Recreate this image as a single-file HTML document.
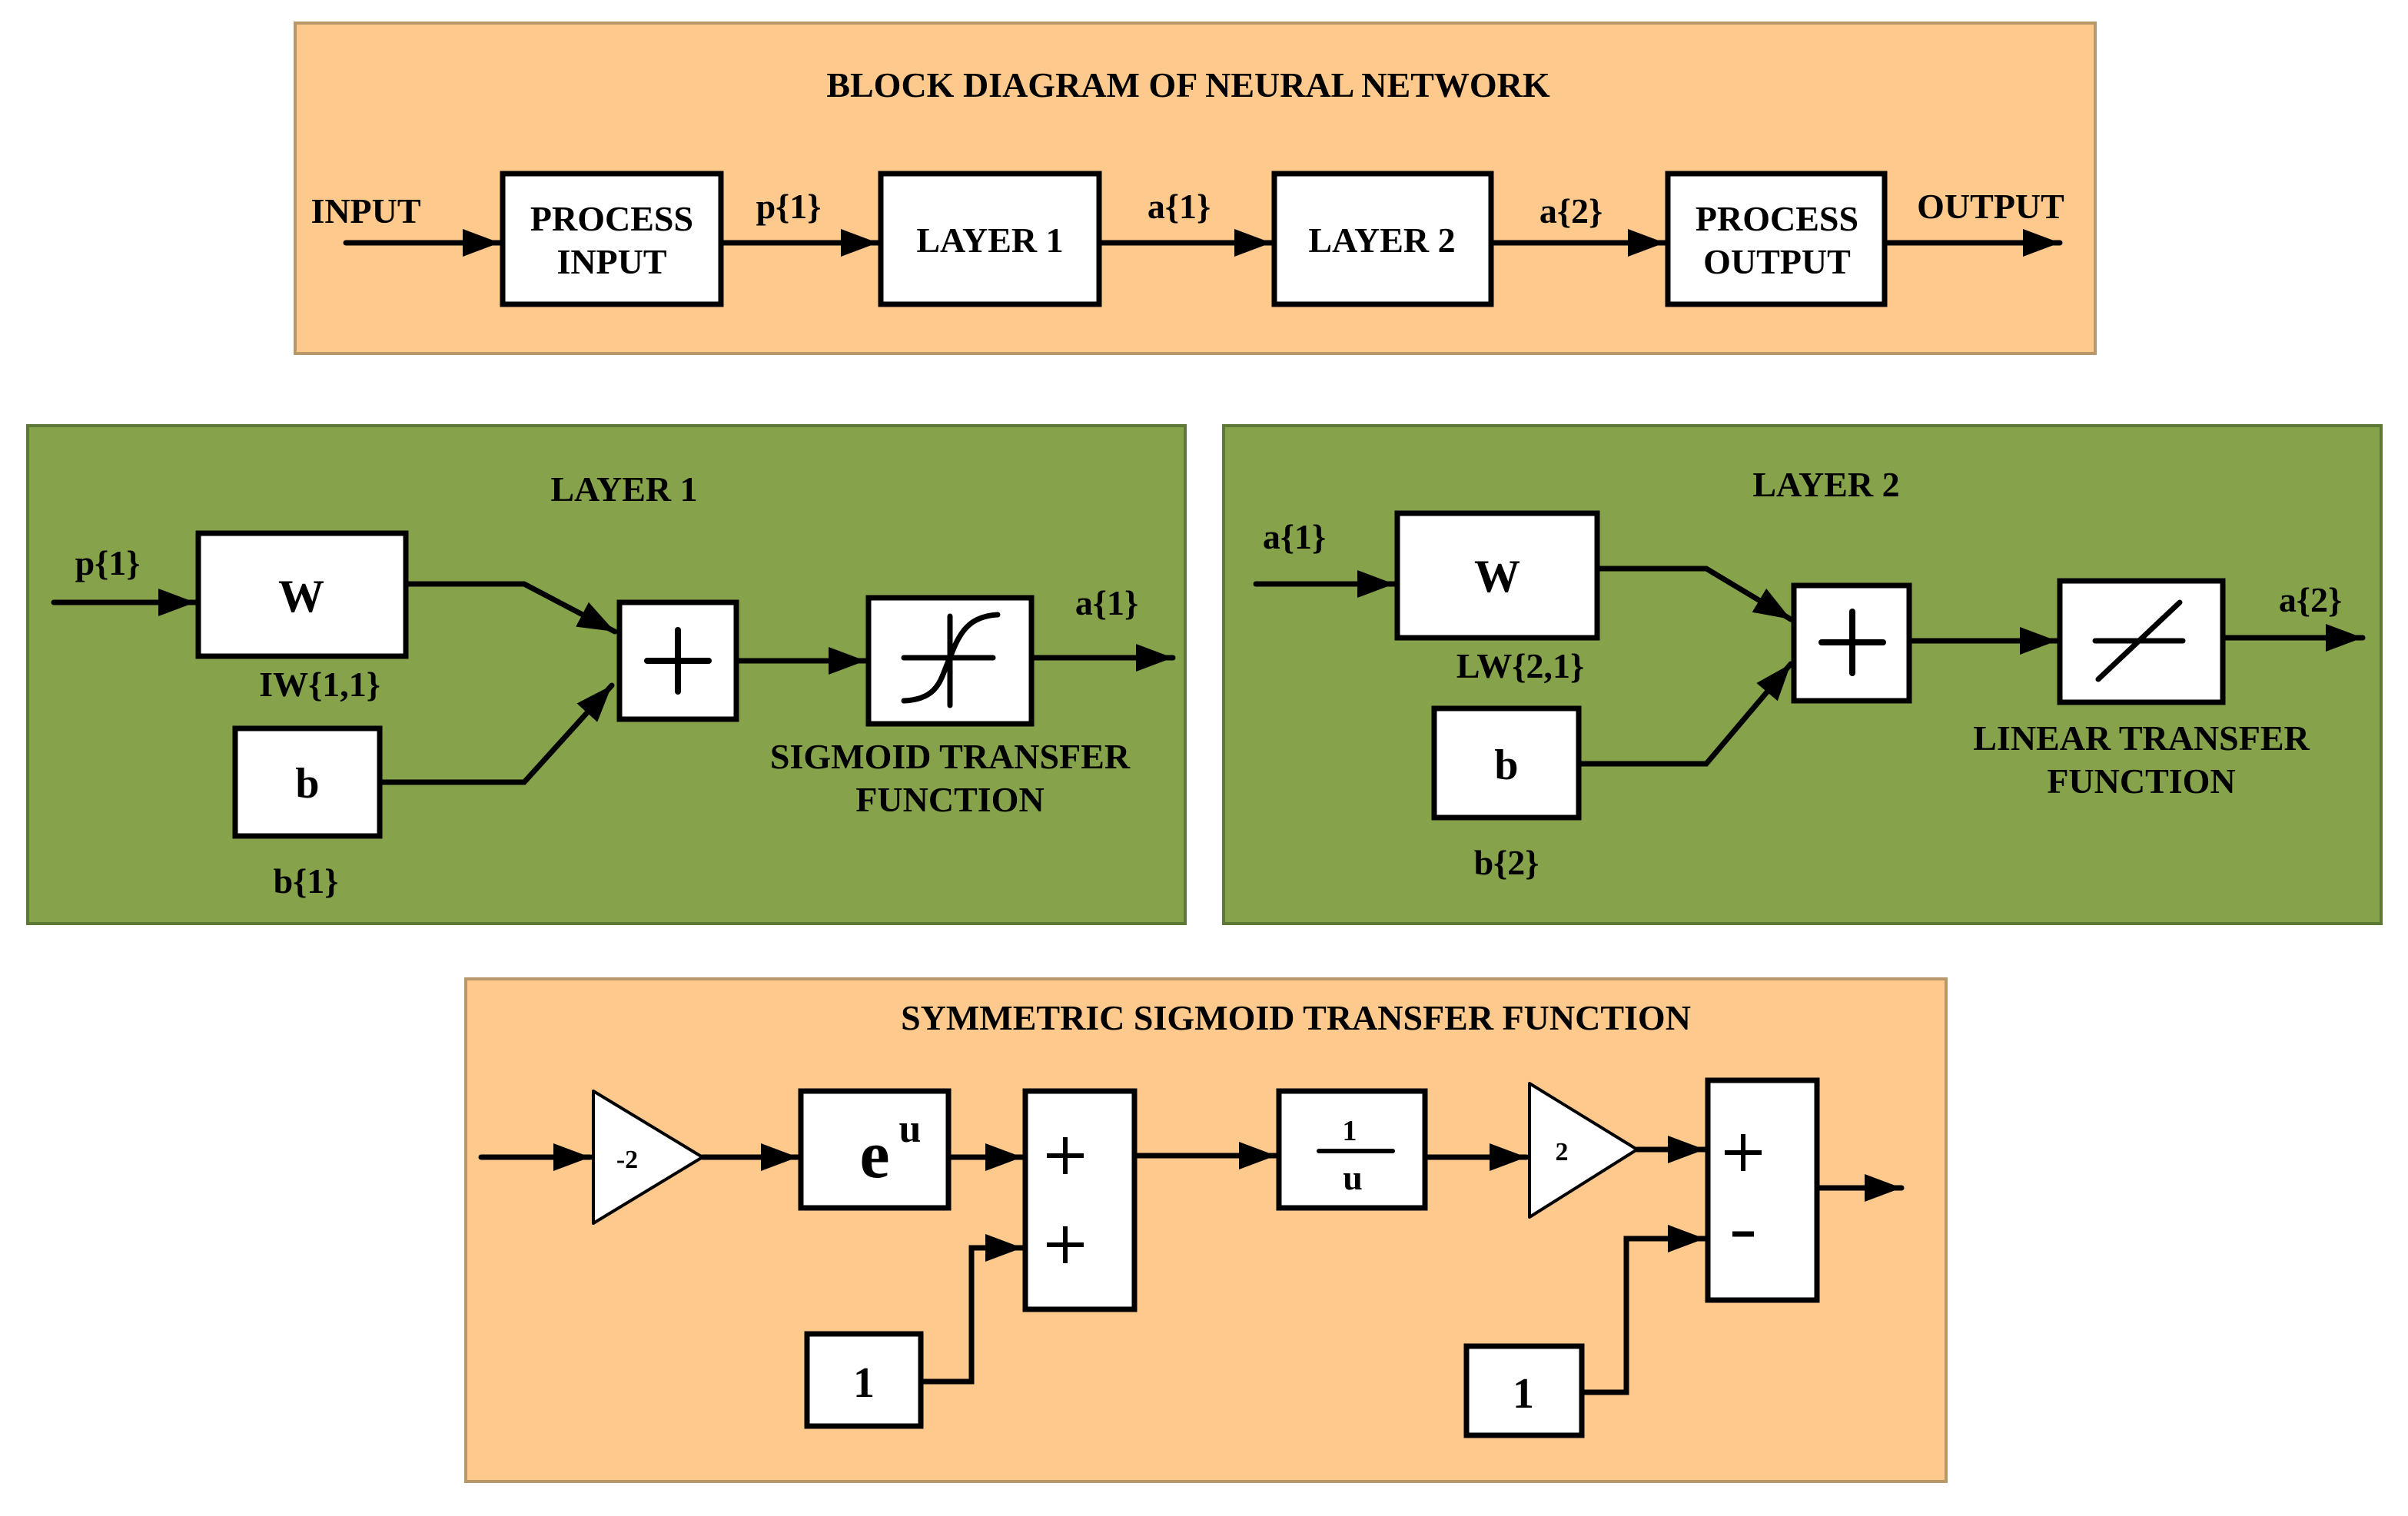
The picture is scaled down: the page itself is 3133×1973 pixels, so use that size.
<!DOCTYPE html>
<html><head><meta charset="utf-8"><style>html,body{margin:0;padding:0;background:#fff}svg{display:block}</style></head>
<body>
<svg width="3133" height="1973" viewBox="0 0 1566.5 986.5" xmlns="http://www.w3.org/2000/svg" font-family="'Liberation Serif', serif" font-weight="bold">
<defs>
<marker id="a" viewBox="0 0 10 10" refX="10" refY="5" markerWidth="24" markerHeight="18" markerUnits="userSpaceOnUse" orient="auto" preserveAspectRatio="none"><path d="M0,0 L10,5 L0,10 Z"/></marker>
</defs>
<g stroke="#000" stroke-width="3.5" fill="none" stroke-linecap="round">
<rect x="192" y="15" width="1171" height="215" fill="#fdc98d" stroke="#b89868" stroke-width="2"/>
<rect x="18" y="277" width="753" height="324" fill="#86a34c" stroke="#5e7835" stroke-width="2"/>
<rect x="796" y="277" width="753" height="324" fill="#86a34c" stroke="#5e7835" stroke-width="2"/>
<rect x="303" y="637" width="963" height="327" fill="#fdc98d" stroke="#b89868" stroke-width="2"/>
<g fill="#fff">
<rect x="327" y="113" width="142" height="85"/>
<rect x="573" y="113" width="142" height="85"/>
<rect x="829" y="113" width="141" height="85"/>
<rect x="1085" y="113" width="141" height="85"/>
<rect x="129" y="347" width="135" height="80"/>
<rect x="153" y="474" width="94" height="70"/>
<rect x="403" y="392" width="76" height="76"/>
<rect x="565" y="389" width="106" height="82"/>
<rect x="909" y="334" width="130" height="81"/>
<rect x="933" y="461" width="94" height="71"/>
<rect x="1167" y="381" width="75" height="75"/>
<rect x="1340" y="378" width="106" height="79"/>
<rect x="521" y="710" width="96" height="76"/>
<rect x="667" y="710" width="71" height="142"/>
<rect x="525" y="868" width="74" height="60"/>
<rect x="832" y="710" width="95" height="76"/>
<rect x="1111" y="703" width="71" height="143"/>
<rect x="954" y="876" width="75" height="58"/>
<path d="M386,710 L386,796 L457,753 Z" stroke-width="2" stroke-linejoin="round"/>
<path d="M995,705 L995,792 L1065,748 Z" stroke-width="2" stroke-linejoin="round"/>
</g>
<line x1="225" y1="158" x2="325" y2="158" marker-end="url(#a)"/>
<line x1="469" y1="158" x2="571" y2="158" marker-end="url(#a)"/>
<line x1="715" y1="158" x2="827" y2="158" marker-end="url(#a)"/>
<line x1="970" y1="158" x2="1083" y2="158" marker-end="url(#a)"/>
<line x1="1226" y1="158" x2="1340" y2="158" marker-end="url(#a)"/>
<line x1="35" y1="392" x2="127" y2="392" marker-end="url(#a)"/>
<polyline points="264,380 341,380 400,411" marker-end="url(#a)"/>
<polyline points="247,509 341,509 398,446" marker-end="url(#a)"/>
<line x1="479" y1="430" x2="563" y2="430" marker-end="url(#a)"/>
<line x1="671" y1="428" x2="763" y2="428" marker-end="url(#a)"/>
<line x1="421" y1="430" x2="461" y2="430" stroke-width="4"/>
<line x1="441" y1="410" x2="441" y2="450" stroke-width="4"/>
<line x1="618" y1="401" x2="618" y2="459"/>
<line x1="588" y1="428" x2="646" y2="428"/>
<path d="M588,456 C612,455 612,440 618,428 C624,412 630,401 649,400"/>
<line x1="817" y1="380" x2="907" y2="380" marker-end="url(#a)"/>
<polyline points="1039,370 1110,370 1165,403" marker-end="url(#a)"/>
<polyline points="1027,497 1110,497 1165,432" marker-end="url(#a)"/>
<line x1="1242" y1="417" x2="1338" y2="417" marker-end="url(#a)"/>
<line x1="1446" y1="415" x2="1537" y2="415" marker-end="url(#a)"/>
<line x1="1185" y1="418" x2="1225" y2="418" stroke-width="4"/>
<line x1="1205" y1="398" x2="1205" y2="438" stroke-width="4"/>
<line x1="1363" y1="417" x2="1420" y2="417"/>
<line x1="1365" y1="442" x2="1418" y2="392"/>
<line x1="313" y1="753" x2="384" y2="753" marker-end="url(#a)"/>
<line x1="457" y1="753" x2="519" y2="753" marker-end="url(#a)"/>
<line x1="617" y1="753" x2="665" y2="753" marker-end="url(#a)"/>
<polyline points="599,899 632,899 632,812 665,812" marker-end="url(#a)"/>
<line x1="738" y1="752" x2="830" y2="752" marker-end="url(#a)"/>
<line x1="927" y1="753" x2="993" y2="753" marker-end="url(#a)"/>
<line x1="1065" y1="748" x2="1109" y2="748" marker-end="url(#a)"/>
<polyline points="1029,906 1058,906 1058,806 1109,806" marker-end="url(#a)"/>
<line x1="1182" y1="773" x2="1237" y2="773" marker-end="url(#a)"/>
<line x1="858" y1="749" x2="906" y2="749" stroke-width="3"/>
<g stroke-width="3" stroke-linecap="butt">
<line x1="681" y1="752" x2="705" y2="752"/><line x1="693" y1="740" x2="693" y2="764"/>
<line x1="681" y1="810" x2="705" y2="810"/><line x1="693" y1="798" x2="693" y2="822"/>
<line x1="1122" y1="750" x2="1146" y2="750"/><line x1="1134" y1="738" x2="1134" y2="762"/>
<line x1="1127" y1="803" x2="1141" y2="803" stroke-width="3.5"/>
</g>
</g>
<g fill="#000" font-size="23" text-anchor="middle">
<text x="773" y="63">BLOCK DIAGRAM OF NEURAL NETWORK</text>
<text x="238" y="145">INPUT</text>
<text x="398" y="150">PROCESS</text>
<text x="398" y="178">INPUT</text>
<text x="644" y="164">LAYER 1</text>
<text x="899" y="164">LAYER 2</text>
<text x="1156" y="150">PROCESS</text>
<text x="1156" y="178">OUTPUT</text>
<text x="513" y="142">p{1}</text>
<text x="767" y="142">a{1}</text>
<text x="1022" y="145">a{2}</text>
<text x="1295" y="142">OUTPUT</text>
<text x="406" y="326">LAYER 1</text>
<text x="70" y="374">p{1}</text>
<text x="196" y="398" font-size="30">W</text>
<text x="208" y="453">IW{1,1}</text>
<text x="200" y="519" font-size="28">b</text>
<text x="199" y="581">b{1}</text>
<text x="720" y="400">a{1}</text>
<text x="618" y="500">SIGMOID TRANSFER</text>
<text x="618" y="528">FUNCTION</text>
<text x="1188" y="323">LAYER 2</text>
<text x="842" y="357">a{1}</text>
<text x="974" y="385" font-size="30">W</text>
<text x="989" y="441">LW{2,1}</text>
<text x="980" y="507" font-size="28">b</text>
<text x="980" y="569">b{2}</text>
<text x="1503" y="398">a{2}</text>
<text x="1393" y="488">LINEAR TRANSFER</text>
<text x="1393" y="516">FUNCTION</text>
<text x="843" y="670">SYMMETRIC SIGMOID TRANSFER FUNCTION</text>
<text x="408" y="760" font-size="17">-2</text>
<text x="569" y="766" font-size="44">e</text>
<text x="592" y="743" font-size="26">u</text>
<text x="562" y="909" font-size="28">1</text>
<text x="878" y="742" font-size="19">1</text>
<text x="880" y="774" font-size="23">u</text>
<text x="1016" y="755" font-size="17">2</text>
<text x="991" y="916" font-size="28">1</text>
</g>
</svg>
</body></html>
